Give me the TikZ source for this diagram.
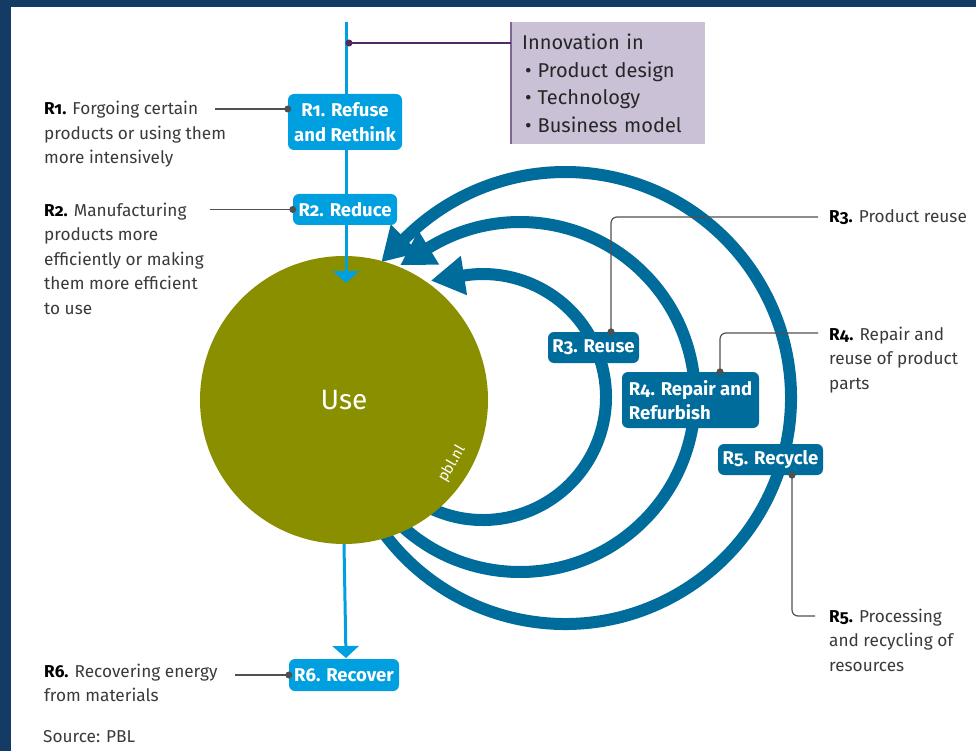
\documentclass[tikz,border=0pt]{standalone}
\usepackage{fontspec}
\setmainfont[Numbers=OldStyle]{Fira Sans}
\usetikzlibrary{arrows.meta,calc}
\definecolor{navy}{HTML}{143B64}
\definecolor{lb}{HTML}{009FDF}
\definecolor{dkb}{HTML}{006C9B}
\definecolor{olive}{HTML}{8A8F00}
\definecolor{lav}{HTML}{CAC1D6}
\definecolor{purpborder}{HTML}{7D6596}
\definecolor{purpline}{HTML}{4F2A63}
\definecolor{txt}{HTML}{3A3A3A}
\definecolor{connc}{HTML}{505050}
\begin{document}
\begin{tikzpicture}[x=1pt,y=1pt,
  lbl/.style={anchor=base west, inner sep=0pt, align=left, text=txt, font=\fontsize{17.2}{24.5}\selectfont},
  rbox/.style={rounded corners=6pt, inner sep=0pt, text=white, font=\bfseries\fontsize{18.5}{24.5}\selectfont, align=center},
  lbbox/.style={rbox, fill=lb},
  dkbox/.style={rbox, fill=dkb},
  conn/.style={draw=connc, line width=1.2pt, rounded corners=6pt},
  dotc/.style={fill=connc},
  lbline/.style={draw=lb, line width=3pt, -{Triangle[length=12pt,width=26pt]}},
  arcline/.style={draw=dkb, line width=12pt},
  archead/.style={fill=dkb}
]
\useasboundingbox (0,0) rectangle (976,-751);
\fill[white] (0,0) rectangle (976,-751);
\fill[navy] (0,0) rectangle (976,-7);
\fill[navy] (0,0) rectangle (11,-751);

% loops
\coordinate (c5) at (565,-398);
\coordinate (c4) at (520,-397);
\coordinate (c3) at (483,-397);
\draw[arcline] ($(c5)+(212:226)$) arc[start angle=212, end angle=495.4, radius=226];
\fill[archead] ($(c5)+(135.1:246)$) -- ($(c5)+(135.1:206)$) -- ($(c5)+(135.1:226)+(225.1:33)$) -- cycle;
\draw[arcline] ($(c4)+(224:175)$) arc[start angle=224, end angle=481.7, radius=175];
\fill[archead] ($(c4)+(121.4:195)$) -- ($(c4)+(121.4:155)$) -- ($(c4)+(121.4:175)+(211.4:33)$) -- cycle;
\draw[arcline] ($(c3)+(242:123)$) arc[start angle=242, end angle=459.2, radius=123];
\fill[archead] ($(c3)+(98.9:143)$) -- ($(c3)+(98.9:103)$) -- ($(c3)+(98.9:123)+(188.9:33)$) -- cycle;

% use circle
\node[circle, fill=olive, minimum size=288pt, inner sep=0pt] (use) at (344,-400) {};
\node[text=white, inner sep=0pt, font=\fontsize{28}{30}\selectfont] (usetext) at (use.center) {Use};
\node[rotate=60, text=white, inner sep=0pt, font=\fontsize{15}{15}\selectfont] (pbl) at (452,-464) {pbl.nl};

% vertical flow
\coordinate (topend) at (346,-22);
\coordinate (in1) at (346,-283);
\coordinate (out1) at (346,-658);
\draw[lbline] (topend) -- (in1);
\draw[lbline] (use.south) -- (out1);

% light blue boxes
\node[lbbox, minimum width=114pt, minimum height=56pt] (r1) at (345,-122) {R1. Refuse\\and Rethink};
\node[lbbox, minimum width=104pt, minimum height=31pt] (r2) at (345,-209.5) {R2. Reduce};
\node[lbbox, minimum width=110pt, minimum height=32pt] (r6) at (344,-675) {R6. Recover};

% dark blue boxes
\node[dkbox, minimum width=91pt, minimum height=31pt] (r3) at (593.5,-347.5) {R3. Reuse};
\node[dkbox, minimum width=137pt, minimum height=56pt, align=left] (r4) at (690.5,-400) {R4. Repair and\\Refurbish};
\node[dkbox, minimum width=105pt, minimum height=31pt] (r5) at (770.5,-459.5) {R5. Recycle};

% innovation box
\node[anchor=north west, fill=lav, minimum width=194pt, minimum height=122pt, inner xsep=11pt, inner ysep=0pt, text width=172pt, align=left, text=black!85, font=\fontsize{20}{27.7}\selectfont] (innov) at (511,-22) {Innovation in\\\hspace*{3pt}•\hspace{6pt}Product design\\\hspace*{3pt}•\hspace{6pt}Technology\\\hspace*{3pt}•\hspace{6pt}Business model};
\draw[purpborder, line width=2pt] (innov.north west) -- (innov.south west);
\coordinate (pdot) at (349,-43);
\draw[purpline, line width=1.5pt] (pdot) -- (pdot -| innov.west);
\fill[purpline] (pdot) circle (3.5pt);

% left labels
\node[lbl] (t1) at (44,-164) {\textbf{\color{black}R1.} Forgoing certain\\products or using them\\more intensively};
\node[lbl] (t2) at (44,-314) {\textbf{\color{black}R2.} Manufacturing\\products more\\efficiently or making\\them more efficient\\to use};
\node[lbl] (t6) at (44,-701.5) {\textbf{\color{black}R6.} Recovering energy\\from materials};
\node[lbl] (src) at (43,-742) {Source: PBL};

\coordinate (l1) at (215,-109);
\coordinate (l2) at (210,-209.5);
\coordinate (l6) at (235,-675);
\draw[conn] (l1) -- (l1 -| r1.west);
\fill[dotc] (l1 -| r1.west) circle (3.5pt);
\draw[conn] (l2) -- (r2.west);
\fill[dotc] (r2.west) circle (3.5pt);
\draw[conn] (l6) -- (r6.west);
\fill[dotc] (r6.west) circle (3.5pt);

% right labels
\node[lbl] (t3) at (829,-223) {\textbf{\color{black}R3.} Product reuse};
\node[lbl] (t4) at (829,-389) {\textbf{\color{black}R4.} Repair and\\reuse of product\\parts};
\node[lbl] (t5) at (829,-671) {\textbf{\color{black}R5.} Processing\\and recycling of\\resources};

\coordinate (d3) at ([xshift=17.5pt]r3.north);
\coordinate (d4) at ([xshift=29.5pt]r4.north);
\coordinate (d5) at ([xshift=21.5pt]r5.south);
\coordinate (e3) at (818,-217);
\coordinate (e4) at (818,-333);
\coordinate (e5) at (815,-616);
\draw[conn] (d3) |- (e3);
\draw[conn] (d4) |- (e4);
\draw[conn] (d5) |- (e5);
\fill[dotc] (d3) circle (3.5pt);
\fill[dotc] (d4) circle (3.5pt);
\fill[dotc] (d5) circle (3.5pt);
\end{tikzpicture}
\end{document}
